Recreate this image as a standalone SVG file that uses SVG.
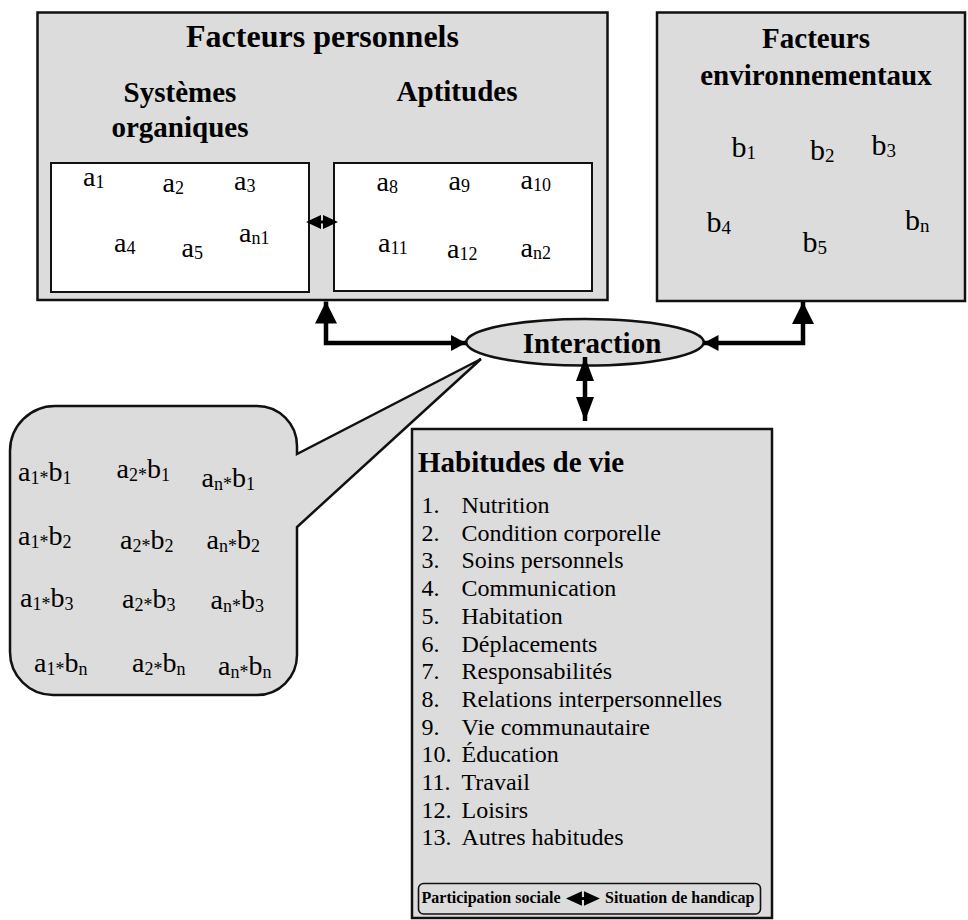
<svg xmlns="http://www.w3.org/2000/svg" width="968" height="920" viewBox="0 0 968 920">
<style>
.box{fill:#dcdcdc;stroke:#111;stroke-width:2.5}
.inner{fill:#fff;stroke:#111;stroke-width:2}
.hb{font-family:"Liberation Serif","Times New Roman",serif;font-weight:bold;font-size:29px;fill:#000}
.title{font-size:32px}
.t{font-family:"Liberation Serif","Times New Roman",serif;font-size:28px;fill:#000}
.tb{font-family:"Liberation Serif","Times New Roman",serif;font-size:30px;fill:#000}
.li{font-family:"Liberation Serif","Times New Roman",serif;font-size:24px;fill:#000}
.sm{font-family:"Liberation Serif","Times New Roman",serif;font-weight:bold;font-size:16px;fill:#000}
.s{font-size:18px}
.sb{font-size:19px}
.conn{fill:none;stroke:#000;stroke-width:4.5;stroke-linejoin:miter}
</style>
<defs>
<marker id="big" markerUnits="userSpaceOnUse" markerWidth="22" markerHeight="22" refX="22" refY="11" orient="auto-start-reverse" viewBox="0 0 22 22"><path d="M0,0 L22,11 L0,22 Z" fill="#000"/></marker>
<marker id="small" markerUnits="userSpaceOnUse" markerWidth="15" markerHeight="16" refX="15" refY="8" orient="auto-start-reverse" viewBox="0 0 15 16"><path d="M0,0 L15,8 L0,16 Z" fill="#000"/></marker>
<marker id="mid" markerUnits="userSpaceOnUse" markerWidth="24" markerHeight="18" refX="24" refY="9" orient="auto-start-reverse" viewBox="0 0 24 18"><path d="M0,0 L24,9 L0,18 Z" fill="#000"/></marker>
<path id="dbl" d="M0,0 L15,-7 V-1.5 H17 V-7 L32,0 L17,7 V1.5 H15 V7 Z" fill="#000"/>
</defs>

<g id="facteurs-personnels">
<rect class="box" x="37.5" y="12.5" width="570" height="287.5"/>
<text class="hb title" x="322.5" y="46.7" text-anchor="middle">Facteurs personnels</text>
<text class="hb" x="180" y="101.7" text-anchor="middle">Systèmes</text>
<text class="hb" x="180" y="136.7" text-anchor="middle">organiques</text>
<text class="hb" x="457" y="100.5" text-anchor="middle">Aptitudes</text>
<rect class="inner" x="51" y="163" width="258" height="129"/>
<rect class="inner" x="334" y="163" width="258" height="128"/>
<text class="t" x="83" y="186">a<tspan class="s" dy="2">1</tspan></text>
<text class="t" x="162.5" y="191.5">a<tspan class="s" dy="2">2</tspan></text>
<text class="t" x="234" y="190">a<tspan class="s" dy="2">3</tspan></text>
<text class="t" x="114" y="251.5">a<tspan class="s" dy="2">4</tspan></text>
<text class="t" x="181.5" y="256.5">a<tspan class="s" dy="2">5</tspan></text>
<text class="t" x="239" y="241.5">a<tspan class="s" dy="2">n1</tspan></text>
<text class="t" x="376.5" y="190.5">a<tspan class="s" dy="2">8</tspan></text>
<text class="t" x="448.5" y="190">a<tspan class="s" dy="2">9</tspan></text>
<text class="t" x="520.5" y="189">a<tspan class="s" dy="2">10</tspan></text>
<text class="t" x="378" y="251.5">a<tspan class="s" dy="2">11</tspan></text>
<text class="t" x="447" y="258">a<tspan class="s" dy="2">12</tspan></text>
<text class="t" x="520.5" y="256.5">a<tspan class="s" dy="2">n2</tspan></text>
<use href="#dbl" x="306" y="222"/>
</g>

<g id="facteurs-environnementaux">
<rect class="box" x="657" y="12.5" width="308" height="288.5"/>
<text class="hb" x="816" y="48" text-anchor="middle">Facteurs</text>
<text class="hb" x="816" y="85" text-anchor="middle">environnementaux</text>
<text class="tb" x="731.5" y="156.5">b<tspan class="sb" dy="2">1</tspan></text>
<text class="tb" x="810" y="159.5">b<tspan class="sb" dy="2">2</tspan></text>
<text class="tb" x="871.5" y="155">b<tspan class="sb" dy="2">3</tspan></text>
<text class="tb" x="706.5" y="231.5">b<tspan class="sb" dy="2">4</tspan></text>
<text class="tb" x="802.5" y="251.5">b<tspan class="sb" dy="2">5</tspan></text>
<text class="tb" x="905" y="229.5">b<tspan class="sb" dy="2">n</tspan></text>
</g>

<g id="interaction">
<ellipse cx="585" cy="342.3" rx="118.7" ry="23.3" fill="#dcdcdc" stroke="#111" stroke-width="2.5"/>
<text class="hb" x="592" y="353" text-anchor="middle">Interaction</text>
</g>

<g id="interactions-bulle">
<path d="M55,406 H257 A40,40 0 0 1 297,446 V454 L481,359 L297,527 V655 A40,40 0 0 1 257,695 H53 A43,43 0 0 1 10,652 V451 A45,45 0 0 1 55,406 Z" fill="#dcdcdc" stroke="#111" stroke-width="2.5" stroke-linejoin="miter"/>
<g class="t">
<text x="18" y="480.5">a<tspan class="s" dy="3">1*</tspan><tspan dy="-3">b</tspan><tspan class="s" dy="3">1</tspan></text>
<text x="116.5" y="478">a<tspan class="s" dy="3">2*</tspan><tspan dy="-3">b</tspan><tspan class="s" dy="3">1</tspan></text>
<text x="201.5" y="486.5">a<tspan class="s" dy="3">n*</tspan><tspan dy="-3">b</tspan><tspan class="s" dy="3">1</tspan></text>
<text x="18" y="545">a<tspan class="s" dy="3">1*</tspan><tspan dy="-3">b</tspan><tspan class="s" dy="3">2</tspan></text>
<text x="120" y="549">a<tspan class="s" dy="3">2*</tspan><tspan dy="-3">b</tspan><tspan class="s" dy="3">2</tspan></text>
<text x="206.5" y="549">a<tspan class="s" dy="3">n*</tspan><tspan dy="-3">b</tspan><tspan class="s" dy="3">2</tspan></text>
<text x="20" y="606.5">a<tspan class="s" dy="3">1*</tspan><tspan dy="-3">b</tspan><tspan class="s" dy="3">3</tspan></text>
<text x="122" y="608">a<tspan class="s" dy="3">2*</tspan><tspan dy="-3">b</tspan><tspan class="s" dy="3">3</tspan></text>
<text x="210.5" y="609">a<tspan class="s" dy="3">n*</tspan><tspan dy="-3">b</tspan><tspan class="s" dy="3">3</tspan></text>
<text x="34" y="671.5">a<tspan class="s" dy="3">1*</tspan><tspan dy="-3">b</tspan><tspan class="s" dy="3">n</tspan></text>
<text x="132" y="671.5">a<tspan class="s" dy="3">2*</tspan><tspan dy="-3">b</tspan><tspan class="s" dy="3">n</tspan></text>
<text x="218" y="675">a<tspan class="s" dy="3">n*</tspan><tspan dy="-3">b</tspan><tspan class="s" dy="3">n</tspan></text>
</g>
</g>

<g id="habitudes-de-vie">
<rect class="box" x="412" y="429" width="360" height="489"/>
<text class="hb" x="418" y="471.5">Habitudes de vie</text>
<g class="li">
<text x="421.5" y="513">1.</text><text x="461.5" y="513">Nutrition</text>
<text x="421.5" y="540.7">2.</text><text x="461.5" y="540.7">Condition corporelle</text>
<text x="421.5" y="568.4">3.</text><text x="461.5" y="568.4">Soins personnels</text>
<text x="421.5" y="596.1">4.</text><text x="461.5" y="596.1">Communication</text>
<text x="421.5" y="623.8">5.</text><text x="461.5" y="623.8">Habitation</text>
<text x="421.5" y="651.5">6.</text><text x="461.5" y="651.5">Déplacements</text>
<text x="421.5" y="679.2">7.</text><text x="461.5" y="679.2">Responsabilités</text>
<text x="421.5" y="706.9">8.</text><text x="461.5" y="706.9">Relations interpersonnelles</text>
<text x="421.5" y="734.6">9.</text><text x="461.5" y="734.6">Vie communautaire</text>
<text x="421.5" y="762.3">10.</text><text x="461.5" y="762.3">Éducation</text>
<text x="421.5" y="790">11.</text><text x="461.5" y="790">Travail</text>
<text x="421.5" y="817.7">12.</text><text x="461.5" y="817.7">Loisirs</text>
<text x="421.5" y="845.4">13.</text><text x="461.5" y="845.4">Autres habitudes</text>
</g>
<rect x="418.5" y="883.5" width="342" height="30.5" rx="5" fill="none" stroke="#111" stroke-width="1.6"/>
<text class="sm" x="421.5" y="903">Participation sociale</text>
<use href="#dbl" transform="translate(566 898.5) scale(1.06 1.05)"/>
<text class="sm" x="605" y="903">Situation de handicap</text>
</g>

<g id="connecteurs">
<path class="conn" d="M466,343 H326 V301.5" marker-start="url(#small)" marker-end="url(#big)"/>
<path class="conn" d="M703.5,343 H803 V302" marker-start="url(#small)" marker-end="url(#big)"/>
<path class="conn" d="M585,357 V421" marker-start="url(#mid)" marker-end="url(#mid)"/>
</g>
</svg>
